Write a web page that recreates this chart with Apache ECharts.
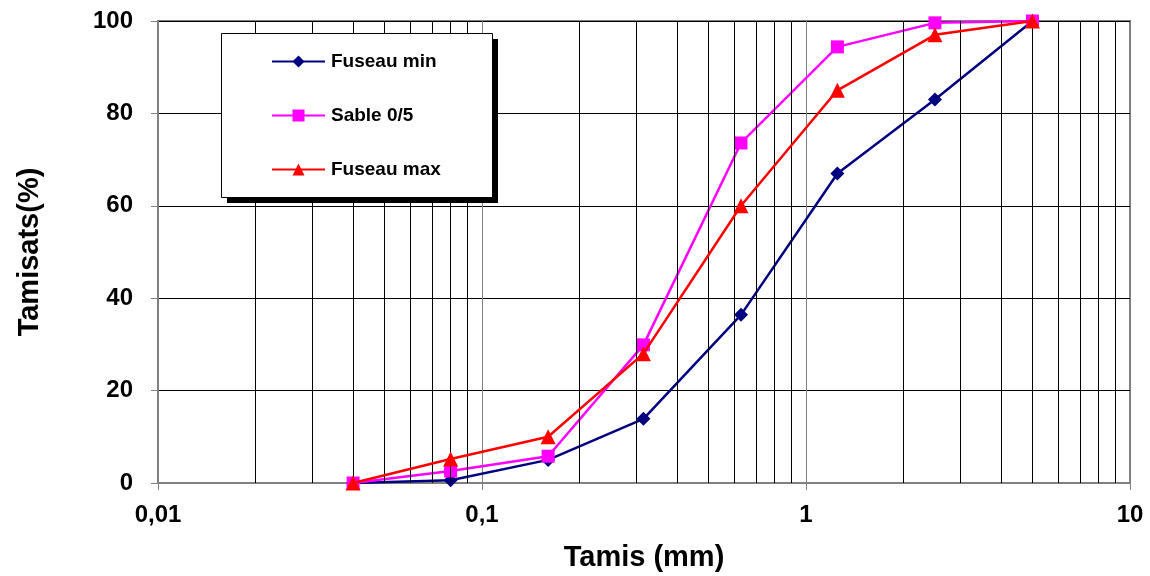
<!DOCTYPE html>
<html>
<head>
<meta charset="utf-8">
<script src="https://cdn.jsdelivr.net/npm/echarts@6/dist/echarts.min.js"></script>
<style>
  html, body { margin: 0; padding: 0; background: #fff; }
  #chart { width: 1150px; height: 576px; }
</style>
</head>
<body>
<div id="chart"></div>
<script>
// ouverture des tamis (mm)
const tamis = [0.04, 0.08, 0.16, 0.315, 0.63, 1.25, 2.5, 5];
// tamisats en %
const fuseauMin = [0, 0.6, 5, 13.9, 36.4, 67, 83, 100];
const sable05 = [0, 2.6, 5.8, 29.9, 73.6, 94.4, 99.6, 100];
const fuseauMax = [0, 5.2, 10, 28, 60, 85, 97, 100];
// lignes de grille secondaires (2..9 par decade)
const minorLines = [0.02, 0.03, 0.04, 0.05, 0.06, 0.07, 0.08, 0.09,
  0.2, 0.3, 0.4, 0.5, 0.6, 0.7, 0.8, 0.9,
  2, 3, 4, 5, 6, 7, 8, 9];

const font = 'Liberation Sans, Arial, sans-serif';

function pts(vals) {
  return tamis.map((x, i) => [x, vals[i]]);
}

const chart = echarts.init(document.getElementById('chart'));

const option = {
  animation: false,
  backgroundColor: '#fff',
  grid: {
    left: 158, right: 20, top: 21, bottom: 93,
    show: true, borderColor: '#808080', borderWidth: 2,
    containLabel: false,
    outerBoundsMode: 'none'
  },
  // cadre de la legende avec ombre portee
  graphic: [
    {
      type: 'rect', left: 227, top: 39, z: 8,
      shape: { width: 271, height: 164 },
      style: { fill: '#000' }
    },
    {
      type: 'rect', left: 221, top: 33, z: 9,
      shape: { width: 271, height: 164 },
      style: { fill: '#fff', stroke: '#000', lineWidth: 1 }
    }
  ],
  legend: {
    data: ['Fuseau min', 'Sable 0/5', 'Fuseau max'],
    orient: 'vertical',
    left: 271, top: 52,
    padding: 0,
    itemGap: 35,
    itemWidth: 53,
    itemHeight: 15,
    z: 10,
    textStyle: { fontFamily: font, fontWeight: 'bold', fontSize: 19, color: '#000', padding: [0, 0, 0, 1] }
  },
  xAxis: {
    type: 'log',
    logBase: 10,
    min: 0.01,
    max: 10,
    name: 'Tamis (mm)',
    nameLocation: 'middle',
    nameGap: 60,
    nameTextStyle: { fontFamily: font, fontWeight: 'bold', fontSize: 29, color: '#000' },
    axisLine: { lineStyle: { color: '#808080', width: 2 } },
    axisTick: { show: true, length: 7, lineStyle: { color: '#808080' } },
    axisLabel: {
      fontFamily: font, fontWeight: 'bold', fontSize: 24, color: '#000', margin: 20,
      formatter: v => String(parseFloat(v.toPrecision(6))).replace('.', ',')
    },
    splitLine: { show: true, lineStyle: { color: '#808080', width: 1 } }
  },
  yAxis: {
    type: 'value',
    min: 0,
    max: 100,
    interval: 20,
    name: 'Tamisats(%)',
    nameLocation: 'middle',
    nameGap: 114,
    nameTextStyle: { fontFamily: font, fontWeight: 'bold', fontSize: 29, color: '#000' },
    axisLine: { show: true, lineStyle: { color: '#808080', width: 2 } },
    axisTick: { show: true, length: 7, lineStyle: { color: '#808080' } },
    axisLabel: { fontFamily: font, fontWeight: 'bold', fontSize: 24, color: '#000', margin: 25 },
    splitLine: { show: true, lineStyle: { color: '#000', width: 1 } }
  },
  series: [
    {
      name: 'grille',
      type: 'line',
      data: [],
      z: 0,
      silent: true,
      markLine: {
        silent: true,
        symbol: 'none',
        label: { show: false },
        lineStyle: { color: '#000', width: 1, type: 'solid' },
        data: minorLines.map(v => ({ xAxis: v }))
      }
    },
    {
      name: 'Fuseau min',
      type: 'line',
      data: pts(fuseauMin),
      color: '#000080',
      symbol: 'diamond',
      symbolSize: 14,
      lineStyle: { width: 2.5 },
      z: 3
    },
    {
      name: 'Sable 0/5',
      type: 'line',
      data: pts(sable05),
      color: '#ff00ff',
      symbol: 'rect',
      symbolSize: 13,
      lineStyle: { width: 2.5 },
      z: 4
    },
    {
      name: 'Fuseau max',
      type: 'line',
      data: pts(fuseauMax),
      color: '#ff0000',
      symbol: 'triangle',
      symbolSize: 15,
      lineStyle: { width: 2.5 },
      z: 5
    }
  ]
};

chart.setOption(option);
</script>
</body>
</html>
